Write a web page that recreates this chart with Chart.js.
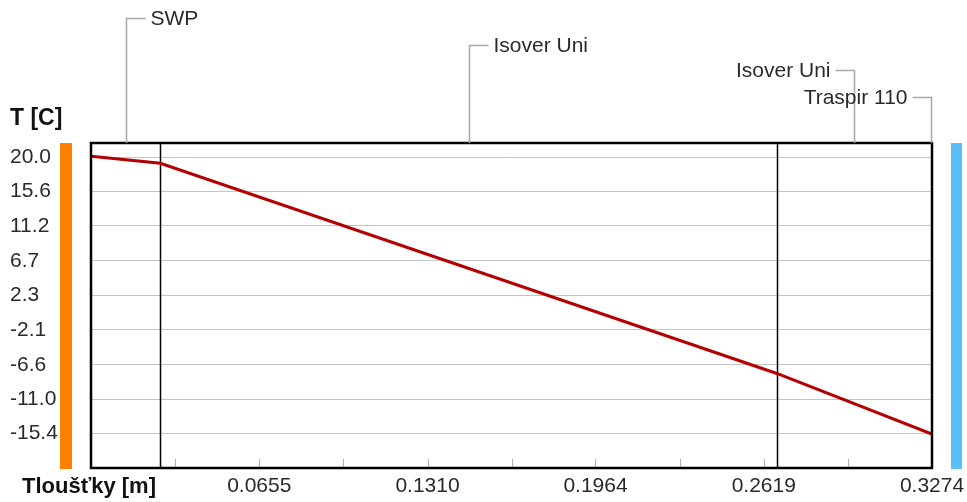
<!DOCTYPE html>
<html>
<head>
<meta charset="utf-8">
<script src="https://cdn.jsdelivr.net/npm/chart.js@4.4.1/dist/chart.umd.min.js"></script>
<style>
  html, body { margin: 0; padding: 0; background: #fff; }
  #wrap { width: 967px; height: 502px; }
</style>
</head>
<body>
<div id="wrap"><canvas id="myChart" width="967" height="502"></canvas></div>
<script>
// vrstvy konstrukce (hranice v m) a teploty na hranicich
const layerNames = ['SWP', 'Isover Uni', 'Isover Uni', 'Traspir 110'];
const boundaries = [0, 0.027, 0.267, 0.327, 0.3274];
const temps = [20.1, 19.2, -7.7, -15.4, -15.4];

// popisky os
const yTicks = [20.0, 15.6, 11.2, 6.7, 2.3, -2.1, -6.6, -11.0, -15.4];
const xLabelTicks = [0.0655, 0.1310, 0.1964, 0.2619, 0.3274];
const xMinorTicks = [0.0327, 0.0982, 0.1637, 0.2292, 0.2946];

const FONT = "'Liberation Sans', Arial, sans-serif";

// umisteni popisku vrstev nad grafem
const calloutY = [18, 45, 70, 97];
const calloutSide = ['right', 'right', 'left', 'left'];

const points = boundaries.map((b, i) => ({ x: b, y: temps[i] }));

const overlay = {
  id: 'overlay',
  beforeDatasetsDraw(chart) {
    const { ctx, chartArea: a, scales: { x } } = chart;
    ctx.save();
    // hranice vrstev
    ctx.strokeStyle = '#000';
    ctx.lineWidth = 1.5;
    boundaries.slice(1, -2).forEach(b => {
      const px = Math.round(x.getPixelForValue(b)) + 0.5;
      ctx.beginPath();
      ctx.moveTo(px, a.top);
      ctx.lineTo(px, a.bottom);
      ctx.stroke();
    });
    // male znacky na ose x
    ctx.strokeStyle = '#b0b0b0';
    ctx.lineWidth = 1;
    xMinorTicks.concat(xLabelTicks).forEach(v => {
      const px = Math.round(x.getPixelForValue(v)) + 0.5;
      ctx.beginPath();
      ctx.moveTo(px, a.bottom);
      ctx.lineTo(px, a.bottom - 9);
      ctx.stroke();
    });
    ctx.restore();
  },
  afterDraw(chart) {
    const { ctx, chartArea: a, scales: { x } } = chart;
    ctx.save();
    // ramecek
    ctx.strokeStyle = '#000';
    ctx.lineWidth = 2.5;
    ctx.strokeRect(a.left, a.top, a.right - a.left, a.bottom - a.top);

    // barevne pruhy (interier / exterier)
    ctx.fillStyle = '#ff8000';
    ctx.fillRect(60, a.top, 12, a.bottom - a.top + 1);
    ctx.fillStyle = '#5bbff7';
    ctx.fillRect(951, a.top, 11, a.bottom - a.top + 1);

    // popisky vrstev
    ctx.font = '21px ' + FONT;
    ctx.textBaseline = 'middle';
    ctx.strokeStyle = '#a8a8a8';
    ctx.lineWidth = 1.5;
    layerNames.forEach((name, i) => {
      const mid = Math.round(x.getPixelForValue((boundaries[i] + boundaries[i + 1]) / 2)) + 0.5;
      const ly = calloutY[i] + 0.5;
      const dir = calloutSide[i] === 'right' ? 1 : -1;
      ctx.beginPath();
      ctx.moveTo(mid, a.top);
      ctx.lineTo(mid, ly);
      ctx.lineTo(mid + dir * 19, ly);
      ctx.stroke();
      ctx.fillStyle = '#2a2a2a';
      ctx.textAlign = dir > 0 ? 'left' : 'right';
      ctx.fillText(name, mid + dir * 24, ly + 1);
    });

    // nazvy os
    ctx.fillStyle = '#111';
    ctx.font = 'bold 23px ' + FONT;
    ctx.textAlign = 'left';
    ctx.fillText('T [C]', 10, 119);
    ctx.font = 'bold 22px ' + FONT;
    ctx.fillText('Tloušťky [m]', 22, 487);
    ctx.restore();
  }
};

new Chart(document.getElementById('myChart'), {
  type: 'line',
  data: {
    datasets: [{
      data: points,
      borderColor: '#b40000',
      borderWidth: 3,
      pointRadius: 0,
      tension: 0,
      fill: false
    }]
  },
  options: {
    responsive: false,
    animation: false,
    events: [],
    layout: { padding: { left: 10, top: 143, right: 35, bottom: 0 } },
    plugins: { legend: { display: false }, tooltip: { enabled: false } },
    scales: {
      x: {
        type: 'linear',
        min: 0,
        max: 0.3274,
        afterBuildTicks: s => { s.ticks = xLabelTicks.map(v => ({ value: v })); },
        afterFit: s => { s.height = 34; s.paddingLeft = 0; s.paddingRight = 0; },
        grid: { display: false, drawTicks: false },
        border: { display: false },
        ticks: {
          padding: 6,
          maxRotation: 0,
          autoSkip: false,
          color: '#2a2a2a',
          font: { family: FONT, size: 21 },
          callback: v => v.toFixed(4)
        }
      },
      y: {
        type: 'linear',
        min: -19.8,
        max: 21.8,
        afterBuildTicks: s => { s.ticks = yTicks.map(v => ({ value: v })); },
        afterFit: s => { s.width = 81; s.paddingTop = 0; s.paddingBottom = 0; },
        grid: { color: '#c4c4c4', lineWidth: 1, drawTicks: false },
        border: { display: false },
        ticks: {
          crossAlign: 'far',
          padding: 0,
          autoSkip: false,
          color: '#2a2a2a',
          font: { family: FONT, size: 21 },
          callback: v => v.toFixed(1)
        }
      }
    }
  },
  plugins: [overlay]
});
</script>
</body>
</html>
